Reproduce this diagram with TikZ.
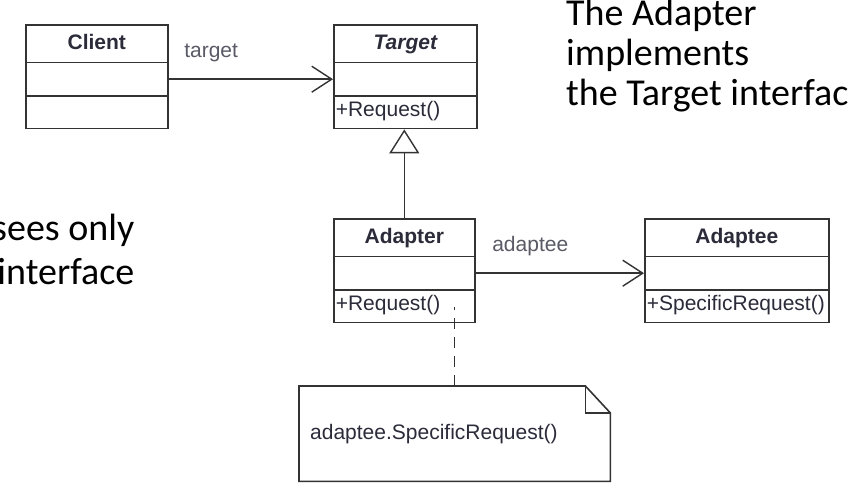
\documentclass[tikz,border=0pt]{standalone}
\usepackage{fontspec}
\setmainfont{Liberation Sans}
\newfontfamily\slidefont{Carlito}
\usepackage{xcolor}
\usepackage{tikz}
\usetikzlibrary{calc,arrows.meta,shapes.multipart}
\setlength{\parindent}{0pt}
\definecolor{bg}{HTML}{FFFFFF}
\definecolor{edge}{HTML}{333333}
\definecolor{ink}{HTML}{2B2B3A}
\definecolor{muted}{HTML}{5A5A66}
\definecolor{slide}{HTML}{000000}
\tikzset{
  cls/.style={rectangle split, rectangle split parts=3, draw=edge, line width=1.6pt,
    inner xsep=2pt, inner ysep=0pt, text=ink, font=\fontsize{21}{24}\selectfont,
    align=left, anchor=north west},
  assoc/.style={draw=edge, line width=1.4pt, -{Straight Barb[length=20pt,width=26pt]}},
  impl/.style={draw=edge, line width=1.4pt, -{Triangle[open,length=24pt,width=30pt,fill=white]}},
  link/.style={draw=edge, line width=1.4pt, dash pattern=on 11pt off 8pt},
  memo/.style={inner xsep=11pt, inner ysep=0pt, minimum height=95pt, text width=289pt,
    align=left, text=ink, font=\fontsize{21}{24}\selectfont, anchor=north west},
  memoedge/.style={draw=edge, line width=1.6pt, line join=miter},
  lab/.style={text=muted, font=\fontsize{21}{24}\selectfont, inner sep=0pt},
  slidetxt/.style={text=slide, font=\slidefont\fontsize{38}{40}\selectfont, inner sep=0pt},
}
\newcommand{\titlerow}{\rule[-12pt]{0pt}{36pt}}
\newcommand{\emptyrow}{\rule[-10pt]{0pt}{32pt}}
\newcommand{\oprow}{\rule[-11pt]{0pt}{31pt}}

\begin{document}
\begin{tikzpicture}[x=1pt,y=-1pt]
  \useasboundingbox[fill=bg] (0,0) rectangle (852,502);
  % classes
  \node[cls, text width=138pt] (Client) at (25,24)
    {\hfill\bfseries Client\hfill\titlerow\nodepart{two}\emptyrow\nodepart{three}\oprow};
  \node[cls, text width=139pt] (Target) at (333,24)
    {\hfill\bfseries\itshape Target\hfill\titlerow\nodepart{two}\emptyrow\nodepart{three}+Request()\oprow};
  \node[cls, text width=137pt] (Adapter) at (333,218)
    {\hfill\bfseries Adapter\hfill\titlerow\nodepart{two}\emptyrow\nodepart{three}+Request()\oprow};
  \node[cls, text width=180pt] (Adaptee) at (644,218)
    {\hfill\bfseries Adaptee\hfill\titlerow\nodepart{two}\emptyrow\nodepart{three}+SpecificRequest()\oprow};
  % relations
  \draw[assoc] ($(Client.text split east)!.5!(Client.two split east)$)
    -- ($(Target.text split west)!.5!(Target.two split west)$)
    node[lab, anchor=base west, pos=0, xshift=15pt, yshift=22pt] {target};
  \draw[impl] (Adapter.north) -- (Adapter.north |- Target.south);
  \draw[assoc] ($(Adapter.text split east)!.5!(Adapter.two split east)$)
    -- ($(Adaptee.text split west)!.5!(Adaptee.two split west)$)
    node[lab, anchor=base west, pos=0, xshift=16pt, yshift=22pt] {adaptee};
  % note
  \node[memo] (note) at (299,386) {adaptee.SpecificRequest()};
  \draw[memoedge] (note.north west) -- ([xshift=-25pt]note.north east)
    -- ([yshift=-27pt]note.north east) -- (note.south east) -- (note.south west) -- cycle;
  \draw[memoedge] ([xshift=-25pt]note.north east) |- ([yshift=-27pt]note.north east);
  \draw[link] (note.north) -- ($(Adapter.south -| note.north)+(0,-16)$);
  % slide text
  \node[slidetxt, align=left, anchor=north west] (claim) at (566,-1)
    {The Adapter\\implements\\the Target interfac};
  \node[slidetxt, font=\slidefont\fontsize{38}{44}\selectfont, align=right, anchor=north east] (sees) at (134.5,214)
    {sees only\\interface};
\end{tikzpicture}
\end{document}
